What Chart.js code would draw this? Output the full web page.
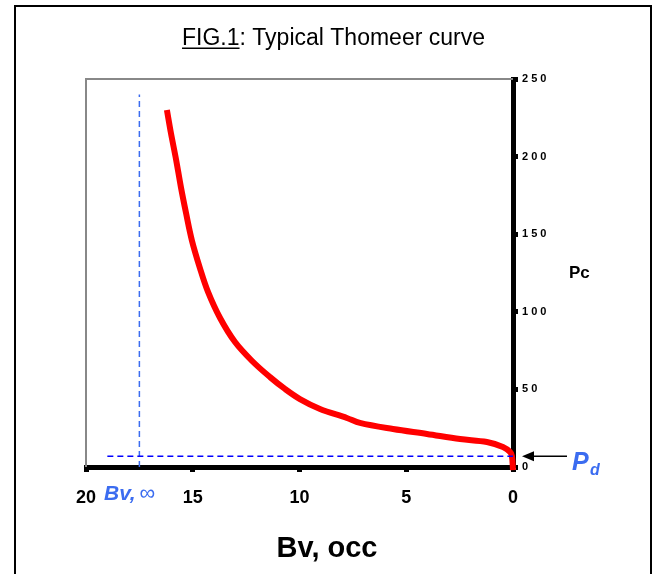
<!DOCTYPE html>
<html>
<head>
  <meta name="viewport" content="width=device-width, initial-scale=1.0">
  <title>Typical Thomeer curve</title>
  <style>
    html, body { margin: 0; padding: 0; background: #fff; }
    #wrap { width: 659px; height: 574px; }
  </style>
</head>
<body>
  <div id="wrap"><canvas id="thomeer" width="659" height="574"></canvas></div>

  <script src="https://cdn.jsdelivr.net/npm/chart.js"></script>
  <script>
    // Werte (Bv in % Bulkvolumen, Pc in psi)
    const bvValues = [16.21, 16.02, 15.78, 15.55, 15.32, 15.04, 14.66, 14.29, 13.72, 13.02, 12.22, 11.38, 10.68, 9.98, 9.04, 7.78, 7.17, 5.62, 4.03, 2.48, 1.22, 0.47, 0.14, 0.05, 0];
    const pcValues = [230, 215, 198, 180, 164, 146, 128, 113, 96, 80.5, 68.3, 57.9, 50.3, 43.8, 37.4, 31.6, 28.4, 24.5, 21.3, 18, 16.1, 12.9, 9.7, 7.1, -2];
    const xTicks = [0, 5, 10, 15, 20];
    const yTicks = [0, 50, 100, 150, 200, 250];
    const bvInfinity = 17.5;
    const pd = 7;

    const curve = bvValues.map((bv, i) => ({ x: bv, y: pcValues[i] }));
    const fontFam = "'Liberation Sans', Arial, sans-serif";

    // Rahmen, Titel und Beschriftungen
    const decorations = {
      id: 'decorations',
      beforeDatasetsDraw(chart) {
        const { ctx, chartArea: a } = chart;
        ctx.save();
        ctx.strokeStyle = '#888';
        ctx.lineWidth = 2;
        ctx.beginPath();
        ctx.moveTo(a.left, a.bottom);
        ctx.lineTo(a.left, a.top);
        ctx.lineTo(a.right, a.top);
        ctx.stroke();
        ctx.restore();
      },
      afterDraw(chart) {
        const { ctx, scales } = chart;
        ctx.save();
        // aeusserer Rahmen
        ctx.strokeStyle = '#000';
        ctx.lineWidth = 2;
        ctx.strokeRect(15, 6, 636, 600);

        // Titel
        ctx.fillStyle = '#000';
        ctx.font = '23px ' + fontFam;
        ctx.textBaseline = 'alphabetic';
        const t1 = 'FIG.1', t2 = ': Typical Thomeer curve';
        const w1 = ctx.measureText(t1).width, w2 = ctx.measureText(t2).width;
        const tx = 333.5 - (w1 + w2) / 2;
        ctx.fillText(t1, tx, 45);
        ctx.fillText(t2, tx + w1, 45);
        ctx.fillRect(tx, 47.5, w1, 1.5);

        // Achsentitel
        ctx.font = 'bold 17px ' + fontFam;
        ctx.textAlign = 'left';
        ctx.textBaseline = 'middle';
        ctx.fillText('Pc', 569, 273);
        ctx.font = 'bold 29px ' + fontFam;
        ctx.textAlign = 'center';
        ctx.fillText('Bv, occ', 327, 549);

        // Bv,inf
        ctx.fillStyle = '#3b6cf0';
        ctx.textAlign = 'left';
        ctx.textBaseline = 'alphabetic';
        ctx.font = 'italic bold 21px ' + fontFam;
        ctx.fillText('Bv,', 104, 500);
        const wb = ctx.measureText('Bv,').width;
        ctx.font = '22px ' + fontFam;
        ctx.fillText('\u221E', 104 + wb + 4, 500);

        // Pd mit Pfeil
        const yPd = scales.y.getPixelForValue(pd);
        ctx.font = 'italic bold 25px ' + fontFam;
        ctx.fillText('P', 572, 470);
        ctx.font = 'italic bold 16px ' + fontFam;
        ctx.fillText('d', 590, 475);
        ctx.strokeStyle = '#000';
        ctx.fillStyle = '#000';
        ctx.lineWidth = 1.5;
        ctx.beginPath();
        ctx.moveTo(567, yPd);
        ctx.lineTo(530, yPd);
        ctx.stroke();
        ctx.beginPath();
        ctx.moveTo(522, yPd);
        ctx.lineTo(534, yPd - 5);
        ctx.lineTo(534, yPd + 5);
        ctx.closePath();
        ctx.fill();
        ctx.restore();
      }
    };

    const ctx = document.getElementById('thomeer').getContext('2d');
    new Chart(ctx, {
      type: 'scatter',
      data: {
        datasets: [
          {
            label: 'Bv,inf',
            data: [{ x: bvInfinity, y: 0 }, { x: bvInfinity, y: 240 }],
            showLine: true,
            borderColor: '#3b6cf0',
            borderWidth: 1.5,
            borderDash: [6, 4],
            pointRadius: 0,
            order: 1
          },
          {
            label: 'Pd',
            data: [{ x: 19, y: pd }, { x: 0, y: pd }],
            showLine: true,
            borderColor: '#0000ff',
            borderWidth: 1.5,
            borderDash: [6, 4],
            pointRadius: 0,
            order: 0
          },
          {
            label: 'Thomeer',
            data: curve,
            showLine: true,
            borderColor: '#ff0000',
            borderWidth: 6,
            tension: 0.35,
            pointRadius: 0,
            clip: false,
            order: 2
          }
        ]
      },
      options: {
        responsive: false,
        animation: false,
        layout: { padding: { left: 86, top: 79, right: 106, bottom: 67 } },
        plugins: { legend: { display: false }, tooltip: { enabled: false } },
        scales: {
          x: {
            type: 'linear',
            reverse: true,
            min: 0,
            max: 20,
            afterFit(s) { s.height = 40; },
            afterBuildTicks(s) { s.ticks = xTicks.map(v => ({ value: v })); },
            border: { display: true, color: '#000', width: 5 },
            grid: { drawOnChartArea: false, drawTicks: true, tickLength: 5, tickWidth: 5, tickColor: '#000' },
            ticks: { color: '#000', font: { family: fontFam, size: 18, weight: 'bold' }, padding: 15, maxRotation: 0 }
          },
          y: {
            type: 'linear',
            position: 'right',
            min: 0,
            max: 250,
            afterFit(s) { s.width = 40; },
            afterBuildTicks(s) { s.ticks = yTicks.map(v => ({ value: v })); },
            border: { display: true, color: '#000', width: 5 },
            grid: { drawOnChartArea: false, drawTicks: true, tickLength: 5, tickWidth: 5, tickColor: '#000' },
            ticks: {
              color: '#000',
              font: { family: fontFam, size: 11, weight: 'bold' },
              padding: 4,
              callback: v => String(v).split('').join(' ')
            }
          }
        }
      },
      plugins: [decorations]
    });
  </script>
</body>
</html>
